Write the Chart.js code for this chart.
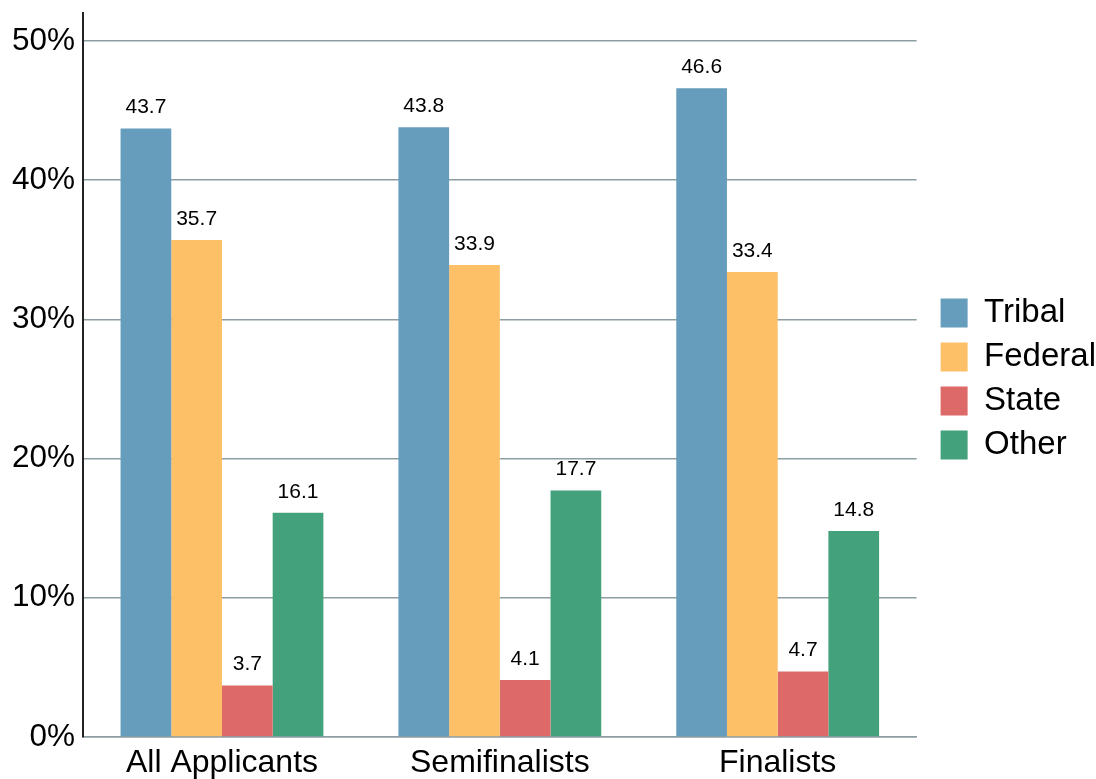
<!DOCTYPE html>
<html>
<head>
<meta charset="utf-8">
<script src="https://cdn.jsdelivr.net/npm/chart.js@4"></script>
<style>
  html, body { margin: 0; padding: 0; background: #fff; }
  #wrap { width: 1096px; height: 779px; }
</style>
</head>
<body>
<div id="wrap"><canvas id="myChart"></canvas></div>
<script>
// categories and series
const groups = ['All Applicants', 'Semifinalists', 'Finalists']
const tribal = [43.7, 43.8, 46.6]
const federal = [35.7, 33.9, 33.4]
const state = [3.7, 4.1, 4.7]
const other = [16.1, 17.7, 14.8]

const FONT = "'Liberation Sans', Arial, Helvetica, sans-serif"

// draws the value above each bar
const valueLabels = {
  id: 'valueLabels',
  afterDatasetsDraw(chart) {
    const ctx = chart.ctx
    ctx.save()
    ctx.font = '21px ' + FONT
    ctx.fillStyle = '#000'
    ctx.textAlign = 'center'
    ctx.textBaseline = 'middle'
    chart.data.datasets.forEach((ds, i) => {
      chart.getDatasetMeta(i).data.forEach((bar, j) => {
        ctx.fillText(ds.data[j].toFixed(1), bar.x, bar.y - 21)
      })
    })
    ctx.restore()
  }
}

var ctx = document.getElementById('myChart').getContext('2d');
var chart = new Chart(ctx, {
  type: 'bar',
  data: {
    labels: groups,
    datasets: [
      { label: 'Tribal', data: tribal, backgroundColor: '#669dbd' },
      { label: 'Federal', data: federal, backgroundColor: '#fdc066' },
      { label: 'State', data: state, backgroundColor: '#dd6a69' },
      { label: 'Other', data: other, backgroundColor: '#43a27c' }
    ]
  },
  options: {
    responsive: true,
    maintainAspectRatio: false,
    animation: false,
    layout: { padding: { left: 4, top: 13, right: -10, bottom: -10 } },
    datasets: {
      bar: { barPercentage: 1, categoryPercentage: 0.73 }
    },
    scales: {
      x: {
        grid: { display: false, drawTicks: false },
        border: { display: true, color: '#8d9ea3', width: 1.5 },
        ticks: { color: '#000', font: { family: FONT, size: 32, lineHeight: 1 }, padding: 10 }
      },
      y: {
        min: 0,
        max: 52,
        grid: { color: '#8d9ea3', lineWidth: 1.5, drawTicks: false },
        border: { display: true, color: '#222', width: 2 },
        ticks: {
          stepSize: 10,
          includeBounds: false,
          padding: 8,
          color: '#000',
          // small lineHeight so the top label does not push the plot down
          font: { family: FONT, size: 31.5, lineHeight: 0.32 },
          callback: v => v + '%'
        }
      },
      // empty spacer between the plot and the legend
      gap: {
        type: 'linear',
        position: 'right',
        grid: { display: false, drawTicks: false },
        border: { display: false },
        ticks: { display: false },
        afterFit: s => { s.width = 13 }
      }
    },
    plugins: {
      tooltip: { enabled: false },
      legend: {
        position: 'right',
        fullSize: false,
        // empty title only nudges the items down a little
        title: { display: true, text: '', padding: 0, font: { size: 8, lineHeight: 1 } },
        labels: {
          boxWidth: 27,
          boxHeight: 29,
          padding: 11,
          color: '#000',
          font: { family: FONT, size: 33 }
        }
      }
    }
  },
  plugins: [valueLabels]
});
</script>
</body>
</html>
